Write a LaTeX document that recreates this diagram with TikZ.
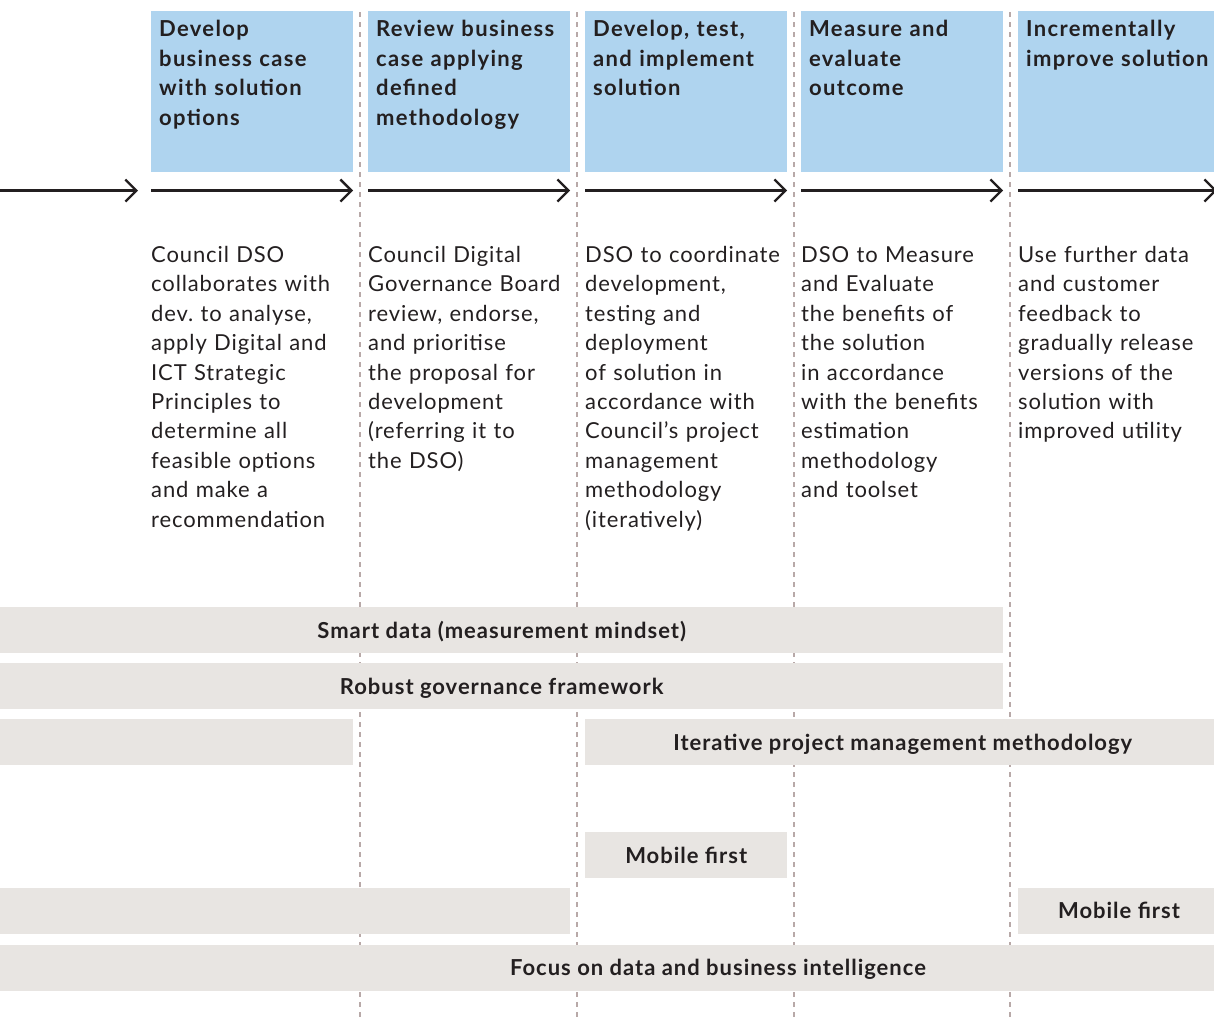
\documentclass[tikz,border=0pt]{standalone}
\usepackage{fontspec}
\setmainfont{Lato}
\newfontfamily\bodyfont{Lato}[LetterSpace=4]
\newfontfamily\hdrfont{Lato}[LetterSpace=6]
\newfontfamily\barfont{Lato}[LetterSpace=4.5]
\usetikzlibrary{arrows.meta}
\definecolor{hdrblue}{HTML}{AFD4EF}
\definecolor{bargray}{HTML}{E8E5E2}
\definecolor{ink}{HTML}{231F20}
\definecolor{dashc}{HTML}{B8A9A8}
\begin{document}
\begin{tikzpicture}[x=1pt,y=-1pt,
  hdrbox/.style={fill=hdrblue, draw=none, anchor=north west, inner sep=0pt, minimum height=161pt},
  hdrtext/.style={anchor=base west, inner sep=0pt, text width=210pt, align=left, font=\hdrfont\fontsize{22}{29.5}\selectfont\bfseries, text=ink},
  bodytext/.style={anchor=base west, inner sep=0pt, text width=215pt, align=left, font=\bodyfont\fontsize{22}{29.4}\selectfont, text=ink},
  barbox/.style={fill=bargray, draw=none, anchor=north west, inner sep=0pt, minimum height=46pt, font=\barfont\fontsize{22}{26}\selectfont\bfseries, text=ink, text height=15.8pt, text depth=0pt},
  bartext/.style={inner sep=0pt, font=\barfont\fontsize{22}{26}\selectfont\bfseries, text=ink, text height=15.8pt, text depth=0pt},
  flow/.style={draw=ink, line width=2.3pt, -{Straight Barb[length=11pt,width=22pt,line width=2.3pt]}},
  divider/.style={draw=dashc, line width=1.3pt, dash pattern=on 5pt off 5pt},
]
\useasboundingbox (0,0) rectangle (1214,1017);

% header boxes
\node[hdrbox, minimum width=202pt] (h1) at (151,11) {};
\node[hdrbox, minimum width=202pt] (h2) at (368,11) {};
\node[hdrbox, minimum width=202pt] (h3) at (585,11) {};
\node[hdrbox, minimum width=202pt] (h4) at (801,11) {};
\node[hdrbox, minimum width=200pt] (h5) at (1018,11) {};

\node[hdrtext] (ht1) at (159,36.7) {Develop\\business case\\with solution\\options};
\node[hdrtext] (ht2) at (376,36.7) {Review business\\case applying\\defined\\methodology};
\node[hdrtext] (ht3) at (593,36.7) {Develop, test,\\and implement\\solution};
\node[hdrtext] (ht4) at (809,36.7) {Measure and\\evaluate\\outcome};
\node[hdrtext] (ht5) at (1026,36.7) {Incrementally\\improve solution};

% dividers
\foreach \i/\x in {1/360,2/577,3/794,4/1010}{
  \coordinate (d\i t) at (\x,12);
  \coordinate (d\i b) at (\x,1017);
}
\foreach \i in {1,...,4}{\draw[divider] (d\i t) -- (d\i b);}

% arrows
\coordinate (a0s) at (0,190.5);    \coordinate (a0e) at (138,190.5);
\coordinate (a1s) at (151,190.5);  \coordinate (a1e) at (353,190.5);
\coordinate (a2s) at (368,190.5);  \coordinate (a2e) at (570,190.5);
\coordinate (a3s) at (585,190.5);  \coordinate (a3e) at (787,190.5);
\coordinate (a4s) at (801,190.5);  \coordinate (a4e) at (1003,190.5);
\coordinate (a5s) at (1018,190.5); \coordinate (a5e) at (1217,190.5);
\foreach \i in {0,...,5}{\draw[flow] (a\i s) -- (a\i e);}

% body texts
\node[bodytext] (b1) at (151,262.5) {Council DSO\\collaborates with\\dev.\ to analyse,\\apply Digital and\\ICT Strategic\\Principles to\\determine all\\feasible options\\and make a\\recommendation};
\node[bodytext] (b2) at (368,262.5) {Council Digital\\Governance Board\\review, endorse,\\and prioritise\\the proposal for\\development\\(referring it to\\the DSO)};
\node[bodytext] (b3) at (585,262.5) {DSO to coordinate\\development,\\testing and\\deployment\\of solution in\\accordance with\\Council’s project\\management\\methodology\\(iteratively)};
\node[bodytext] (b4) at (801,262.5) {DSO to Measure\\and Evaluate\\the benefits of\\the solution\\in accordance\\with the benefits\\estimation\\methodology\\and toolset};
\node[bodytext] (b5) at (1018,262.5) {Use further data\\and customer\\feedback to\\gradually release\\versions of the\\solution with\\improved utility};

% bars
\node[barbox, minimum width=1003pt] (r1) at (0,607) {Smart data (measurement mindset)};
\node[barbox, minimum width=1003pt] (r2) at (0,663) {Robust governance framework};
\node[barbox, minimum width=353pt] (r3a) at (0,719) {};
\node[barbox, minimum width=635pt] (r3b) at (585,719) {Iterative project management methodology};
\node[barbox, minimum width=202pt] (r4) at (585,832) {Mobile first};
\node[barbox, minimum width=570pt] (r5a) at (0,888) {};
\node[barbox, minimum width=200pt] (r5b) at (1018,888) {};
\node[bartext] (r5bt) at (1119,911) {Mobile first};
\node[barbox, minimum width=1220pt] (r6) at (0,945) {};
\node[bartext] (r6t) at (718,968) {Focus on data and business intelligence};
\end{tikzpicture}
\end{document}
